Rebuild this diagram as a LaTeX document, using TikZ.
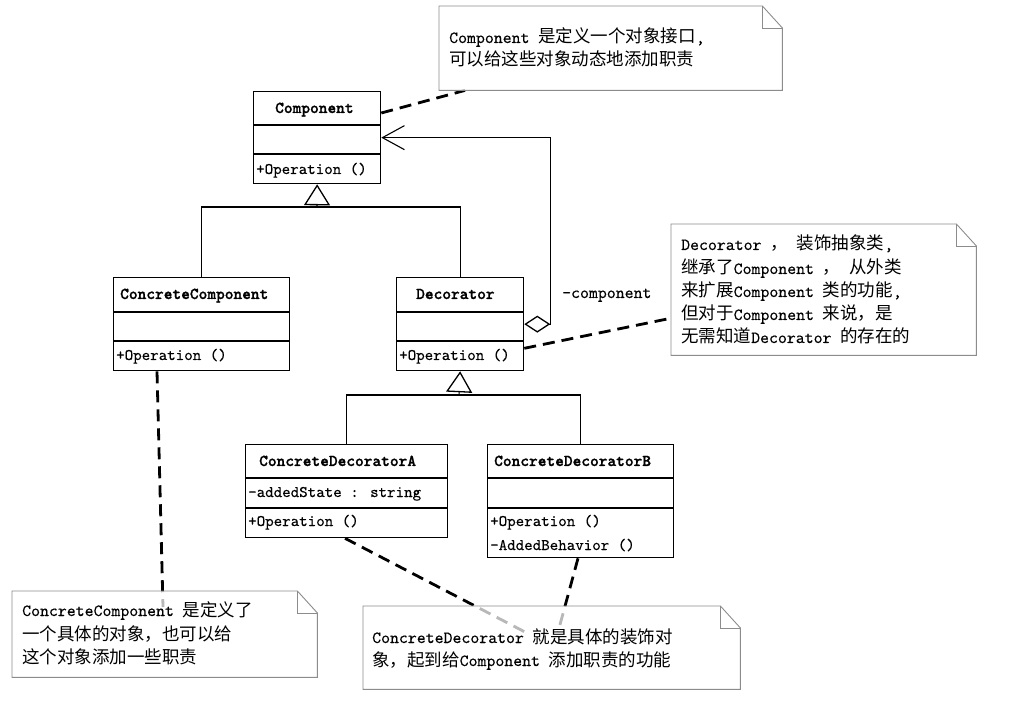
\documentclass[tikz,border=0pt]{standalone}
\usepackage{fontspec}
\newfontfamily\cjk{Noto Sans CJK SC}
\newfontfamily\lat{lmmono10-regular.otf}[FakeBold=0.25, BoldFont=lmmonolt10-bold.otf, BoldFeatures={FakeBold=1.2}]
\usetikzlibrary{arrows.meta,calc}
\newcommand{\zh}[1]{{\cjk\fontsize{17.5}{23}\selectfont #1}}
\begin{document}
\begin{tikzpicture}[x=1pt,y=-1pt,
  box/.style={draw=black, line width=1.3pt, inner sep=0pt, anchor=north west},
  hd/.style={anchor=base west, inner sep=0pt, font=\lat\fontsize{16.6}{17}\selectfont\bfseries},
  mb/.style={anchor=base west, inner sep=0pt, font=\lat\fontsize{16.2}{17}\selectfont},
  nt/.style={anchor=base west, inner sep=0pt, font=\lat\fontsize{17}{23}\selectfont},
  notebg/.style={draw=none, inner sep=0pt, anchor=north west},
  link/.style={line width=2.8pt, dash pattern=on 12pt off 7pt},
  noteline/.style={draw=black!45, line width=0.9pt, fill=white, fill opacity=0.72},
  foldline/.style={draw=black!45, line width=0.9pt},
  divider/.style={line width=1.3pt},
  inh/.style={line width=1.1pt, -{Triangle[open,length=21pt,width=26pt,line width=1.3pt]}},
  agg/.style={line width=1.1pt, {Diamond[open,length=26pt,width=17pt,line width=1.3pt]}-{Straight Barb[length=22pt,width=24pt,line width=1.1pt]}}
]
\useasboundingbox (0,0) rectangle (1021,703);
\fill[white] (0,0) rectangle (1021,703);

% ---------- class boxes ----------
\node[box, minimum width=127pt, minimum height=92pt] (comp) at (253,91) {};
\draw[divider] (253,125) -- (380,125) (253,154) -- (380,154);
\node[hd] (compname) at (275,113) {Component};
\node[mb] (compop) at (256,174) {+Operation ()};

\node[box, minimum width=176pt, minimum height=93pt] (cc) at (113,277) {};
\draw[divider] (113,312) -- (289,312) (113,341) -- (289,341);
\node[hd] (ccname) at (120,299) {ConcreteComponent};
\node[mb] (ccop) at (116,360) {+Operation ()};

\node[box, minimum width=127pt, minimum height=93pt] (dec) at (396,277) {};
\draw[divider] (396,312) -- (523,312) (396,341) -- (523,341);
\node[hd] (decname) at (416,299) {Decorator};
\node[mb] (decop) at (399,360) {+Operation ()};

\node[box, minimum width=202pt, minimum height=93pt] (cda) at (245,444) {};
\draw[divider] (245,478) -- (447,478) (245,508) -- (447,508);
\node[hd] (cdaname) at (259,466) {ConcreteDecoratorA};
\node[mb] (cdaattr) at (248,497) {-addedState : string};
\node[mb] (cdaop) at (248,526) {+Operation ()};

\node[box, minimum width=186pt, minimum height=113pt] (cdb) at (487,444) {};
\draw[divider] (487,478) -- (673,478) (487,508) -- (673,508);
\node[hd] (cdbname) at (494,466) {ConcreteDecoratorB};
\node[mb] (cdbop) at (490,526) {+Operation ()};
\node[mb] (cdbop2) at (490,550) {-AddedBehavior ()};

% ---------- generalisation ----------
\coordinate (j1) at (317,207);
\draw[line width=1.1pt] (cc.north) |- (j1) -| (dec.north);
\draw[inh] (j1) -- (comp.south);

\coordinate (j2) at (459,395);
\draw[line width=1.1pt] (cda.north) |- (j2) -| (cdb.north);
\draw[inh] (j2) -- (dec.south);

% ---------- aggregation ----------
\draw[agg] (dec.east) -- ++(26,0) |- (comp.east);
\node[anchor=base west, inner sep=0pt, font=\lat\fontsize{17}{17}\selectfont] (role) at (562,298) {-component};

% ---------- note links ----------
\node[notebg, minimum width=343pt, minimum height=84pt] (n1) at (439,6) {};
\node[notebg, minimum width=305pt, minimum height=131pt] (n2) at (671,224) {};
\node[notebg, minimum width=305pt, minimum height=86pt] (n3) at (12,591) {};
\node[notebg, minimum width=377pt, minimum height=83pt] (n4) at (363,606) {};

\draw[link] ($(comp.north east)+(0,22)$) -- ($(n1.south west)+(26,0)$);
\draw[link] ($(dec.south east)+(0,-23)$) -- ($(n2.west)+(0,28.5)$);
\draw[link] ($(cc.south west)+(44,0)$) -- ($(n3.north west)+(151,16)$);
\draw[link] ($(cda.south west)+(100,0)$) -- ($(n4.north west)+(162,26)$);
\draw[link] ($(cdb.south west)+(91,0)$) -- ($(n4.north west)+(195,26)$);

% ---------- notes ----------
\foreach \n in {n1,n2,n3,n4}{
  \draw[noteline] (\n.north west) -- ($(\n.north east)+(-20,0)$) -- ($(\n.north east)+(0,22)$)
    -- (\n.south east) -- (\n.south west) -- cycle;
  \draw[foldline] ($(\n.north east)+(-20,0)$) |- ($(\n.north east)+(0,22)$);
}

\node[nt] (n1a) at (449,43) {Component \zh{是定义一个对象接口},};
\node[nt] (n1b) at (449,66) {\zh{可以给这些对象动态地添加职责}};

\node[nt] (n2a) at (681,250) {Decorator \zh{，} \zh{装饰抽象类},};
\node[nt] (n2b) at (681,274) {\zh{继承了}Component \zh{，} \zh{从外类}};
\node[nt] (n2c) at (681,297) {\zh{来扩展}Component \zh{类的功能},};
\node[nt] (n2d) at (681,320) {\zh{但对于}Component \zh{来说，是}};
\node[nt] (n2e) at (681,343) {\zh{无需知道}Decorator \zh{的存在的}};

\node[nt] (n3a) at (22,616) {ConcreteComponent \zh{是定义了}};
\node[nt] (n3b) at (22,640) {\zh{一个具体的对象，也可以给}};
\node[nt] (n3c) at (22,663) {\zh{这个对象添加一些职责}};

\node[nt] (n4a) at (372,643) {ConcreteDecorator \zh{就是具体的装饰对}};
\node[nt] (n4b) at (372,666) {\zh{象，起到给}Component \zh{添加职责的功能}};
\end{tikzpicture}
\end{document}
